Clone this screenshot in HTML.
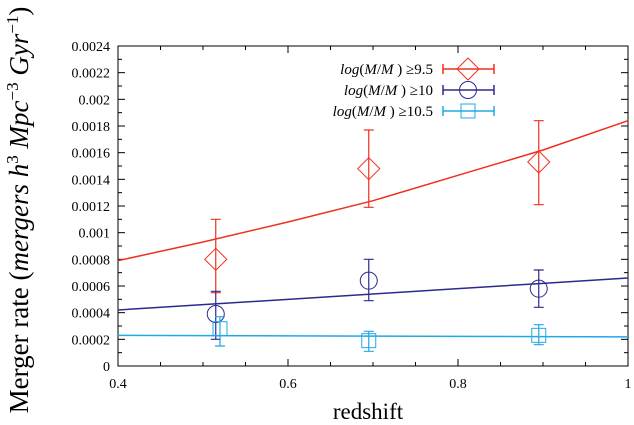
<!DOCTYPE html>
<html><head><meta charset="utf-8"><style>body{margin:0;background:#fff}svg{display:block;font-family:"Liberation Serif",serif}</style></head><body>
<svg id="c" width="634" height="425"></svg>
<script>
const xTicks=[0.4,0.6,0.8,1.0];
const xTickLabels=["0.4","0.6","0.8","1"];
const yTicks=[0,0.0002,0.0004,0.0006,0.0008,0.001,0.0012,0.0014,0.0016,0.0018,0.002,0.0022,0.0024];
const yTickLabels=["0","0.0002","0.0004","0.0006","0.0008","0.001","0.0012","0.0014","0.0016","0.0018","0.002","0.0022","0.0024"];
const lineX=[0.4,0.5,0.6,0.7,0.8,0.9,1.0];
const redLine=[0.00079,0.00093,0.00108,0.00124,0.00143,0.00162,0.00184];
const blueLine=[0.00042,0.00046,0.0005,0.00054,0.00058,0.00062,0.00066];
const cyanLine=[0.00023,0.000228,0.000226,0.000224,0.000222,0.00022,0.000218];
const redX=[0.515,0.695,0.895], redY=[0.0008,0.00148,0.00153], redLo=[0.00055,0.00119,0.00121], redHi=[0.0011,0.00177,0.00184];
const blueX=[0.515,0.695,0.895], blueY=[0.00039,0.00064,0.00058], blueLo=[0.0002,0.00049,0.00044], blueHi=[0.00056,0.0008,0.00072];
const cyanX=[0.52,0.695,0.895], cyanY=[0.00028,0.00019,0.00023], cyanLo=[0.00015,0.00011,0.00016], cyanHi=[0.00037,0.00026,0.00031];
const L=118,R=628,T=46,B=366;
const sx=v=>L+(v-0.4)/0.6*(R-L), sy=v=>B-v/0.0024*(B-T);
const svg=document.getElementById('c');const NS='http://www.w3.org/2000/svg';
function mk(t,a,txt){const e=document.createElementNS(NS,t);for(const k in a)e.setAttribute(k,a[k]);if(txt!==undefined)e.textContent=txt;svg.appendChild(e);return e;}
let e=mk('rect',{x:L,y:T,width:R-L,height:B-T,fill:'none',stroke:'#000','stroke-width':1});


for(let v=0;v<=0.00241;v+=0.0001){const y=sy(v);const big=Math.round(v*10000)%2==0;const len=big?7:4;
mk('line',{x1:L,x2:L+len,y1:y,y2:y,stroke:'#000'});mk('line',{x1:R,x2:R-len,y1:y,y2:y,stroke:'#000'});}
for(let v=0.4;v<=1.001;v+=0.05){const x=sx(v);const big=Math.abs(Math.round(v*10)-v*10)<0.01&&Math.round(v*10)%2==0;const len=big?7:4;
mk('line',{x1:x,x2:x,y1:B,y2:B-len,stroke:'#000'});mk('line',{x1:x,x2:x,y1:T,y2:T+len,stroke:'#000'});}
yTicks.forEach((v,i)=>{e=mk('text',{x:L-8,y:sy(v)+5,'text-anchor':'end','font-size':14},yTickLabels[i]);

});
xTicks.forEach((v,i)=>{e=mk('text',{x:sx(v),y:B+22,'text-anchor':'middle','font-size':14},xTickLabels[i]);

});
e=mk('text',{x:368,y:419,'text-anchor':'middle','font-size':23},'redshift');


e=mk('text',{x:0,y:0,'text-anchor':'middle','font-size':27,transform:'translate(28,210) rotate(-90)'});
e.innerHTML='Merger rate (<tspan font-style="italic">mergers h</tspan><tspan font-size="17" dy="-10">3</tspan><tspan dy="10" font-style="italic"> Mpc</tspan><tspan font-size="17" dy="-10">−3</tspan><tspan dy="10" font-style="italic"> Gyr</tspan><tspan font-size="17" dy="-10">−1</tspan><tspan dy="10">)</tspan>';


function marker(sh,x,y,c,name){let m;
if(sh=='d')m=mk('polygon',{points:`${x},${y-11} ${x+11},${y} ${x},${y+11} ${x-11},${y}`,fill:'none',stroke:c});
else if(sh=='o')m=mk('circle',{cx:x,cy:y,r:8.5,fill:'none',stroke:c});
else m=mk('rect',{x:x-7,y:y-7,width:14,height:14,fill:'none',stroke:c});

}
function series(xs,ys,c,X,Y,Lo,Hi,sh,nm){
let p=xs.map((v,i)=>sx(v)+','+sy(ys[i])).join(' ');
let l=mk('polyline',{points:p,fill:'none',stroke:c,'stroke-width':1.5});


X.forEach((v,i)=>{const x=sx(v);
let eb=mk('path',{d:`M${x},${sy(Lo[i])}V${sy(Hi[i])}M${x-5},${sy(Lo[i])}H${x+5}M${x-5},${sy(Hi[i])}H${x+5}`,stroke:c,fill:'none','stroke-width':1.2});


marker(sh,x,sy(Y[i]),c,nm+'-point');});}
series(lineX,redLine,'#f0301e',redX,redY,redLo,redHi,'d','red');
series(lineX,blueLine,'#2b2b8f',blueX,blueY,blueLo,blueHi,'o','blue');
series(lineX,cyanLine,'#22a8e6',cyanX,cyanY,cyanLo,cyanHi,'s','cyan');
const leg=[['≥9.5','#f0301e','d',69],['≥10','#2b2b8f','o',90],['≥10.5','#22a8e6','s',111]];
leg.forEach(r=>{const y=r[3];
let t=mk('text',{x:433,y:y+5,'text-anchor':'end','font-size':15});
t.innerHTML='<tspan font-style="italic">log</tspan>(<tspan font-style="italic">M</tspan>/<tspan font-style="italic">M</tspan>   ) '+r[0];


let p=mk('path',{d:`M443,${y}H494M443,${y-5}V${y+5}M494,${y-5}V${y+5}`,stroke:r[1],'stroke-width':1.5,fill:'none'});


marker(r[2],468,y,r[1],'legend-marker');});
</script></body></html>
